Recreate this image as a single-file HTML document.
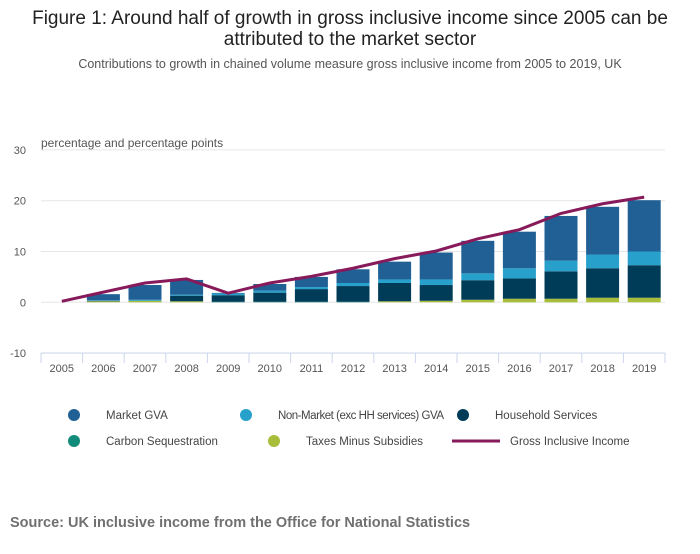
<!DOCTYPE html>
<html><head><meta charset="utf-8"><style>
body{margin:0;background:#fff;font-family:"Liberation Sans",sans-serif;}
svg text{font-family:"Liberation Sans",sans-serif;}
</style></head><body>
<svg id="chart" width="700" height="549">
<text x="350" y="24" text-anchor="middle" font-size="19" fill="#222">Figure 1: Around half of growth in gross inclusive income since 2005 can be</text>
<text x="350" y="45" text-anchor="middle" font-size="19" fill="#222">attributed to the market sector</text>
<text x="350" y="68" text-anchor="middle" font-size="12.5" fill="#555">Contributions to growth in chained volume measure gross inclusive income from 2005 to 2019, UK</text>
<text x="41" y="147" font-size="12" fill="#555">percentage and percentage points</text>
<g id="grid"></g><g id="bars"></g><g id="xaxis"></g><g id="line"></g>
<g id="legend"></g>
<text x="10" y="527" font-size="14.5" font-weight="bold" fill="#707070">Source: UK inclusive income from the Office for National Statistics</text>
</svg>
<script>
const years=["2005","2006","2007","2008","2009","2010","2011","2012","2013","2014","2015","2016","2017","2018","2019"];
const taxes=[0,0.2,0.3,0.2,0,0,0,0,0.2,0.3,0.5,0.7,0.7,0.9,0.9];
const carbon=[0,0,0,0,0.1,0.1,0.1,0.1,0,0,0,0,0,0,0];
const household=[0,0.1,0,1.1,1.3,1.8,2.5,3.1,3.6,3.1,3.85,4.0,5.4,5.8,6.4];
const nonMarket=[0,0.1,0.2,0.2,0.35,0.4,0.4,0.6,0.7,1.1,1.35,2.0,2.1,2.7,2.7];
const market=[0,1.2,2.9,2.9,0.1,1.3,2.0,2.7,3.5,5.3,6.4,7.2,8.8,9.4,10.1];
const gii=[0.2,2.0,3.8,4.6,1.8,3.8,5.1,6.7,8.6,10.1,12.5,14.3,17.5,19.4,20.7];
const yTicks=[30,20,10,0,-10];
const NS="http://www.w3.org/2000/svg";
const X0=41,X1=665,band=(X1-X0)/years.length;
const y=v=>302.3-v*5.08;
const xc=i=>X0+band*(i+0.5);
function mk(t,a,p){const e=document.createElementNS(NS,t);for(const k in a)e.setAttribute(k,a[k]);p.appendChild(e);return e;}
const grid=document.getElementById('grid');
yTicks.forEach(t=>{
 const l=mk('line',{x1:X0,x2:X1,y1:y(t),y2:y(t),stroke:'#e6e6e6'},grid);
 
 
 const tx=mk('text',{x:26,y:y(t)+4,'text-anchor':'end','font-size':11,fill:'#555'},grid);tx.textContent=t;
 
 
});
const series=[[taxes,'#a8bd3a','taxes'],[carbon,'#118c7b','carbon'],[household,'#003c57','household'],[nonMarket,'#27a0cc','non-market'],[market,'#206095','market']];
const bars=document.getElementById('bars');
years.forEach((yr,i)=>{
 let base=0;
 series.forEach(([arr,c,n])=>{
  const v=arr[i];if(v<=0)return;
  const r=mk('rect',{x:xc(i)-16.5,width:33,y:y(base+v),height:y(base)-y(base+v),fill:c},bars);
  
  
  base+=v;
 });
});
const xa=document.getElementById('xaxis');
const ax=mk('line',{x1:X0,x2:X1,y1:353,y2:353,stroke:'#ccd6eb'},xa);


for(let i=0;i<=years.length;i++){mk('line',{x1:X0+band*i,x2:X0+band*i,y1:353,y2:363,stroke:'#ccd6eb'},xa);}
years.forEach((yr,i)=>{const t=mk('text',{x:xc(i),y:372,'text-anchor':'middle','font-size':11,fill:'#555'},xa);t.textContent=yr;
 
 });
const ln=mk('polyline',{points:gii.map((v,i)=>xc(i)+','+y(v)).join(' '),fill:'none',stroke:'#871a5b','stroke-width':3},document.getElementById('line'));


const lg=document.getElementById('legend');
const items=[['circle','#206095','Market GVA',74,415],['circle','#27a0cc','Non-Market (exc HH services) GVA',246,415],['circle','#003c57','Household Services',463,415],['circle','#118c7b','Carbon Sequestration',74,441],['circle','#a8bd3a','Taxes Minus Subsidies',274,441],['line','#871a5b','Gross Inclusive Income',463,441]];
items.forEach(([s,c,l,x,yy])=>{
 const g=mk('g',{},lg);
 
 
 if(s==='circle'){mk('circle',{cx:x,cy:yy,r:6,fill:c},g);}
 else{mk('line',{x1:x-11,x2:x+37,y1:yy,y2:yy,stroke:c,'stroke-width':3},g);}
 const t=mk('text',{x:s==='circle'?x+32:x+47,y:yy+4,'font-size':11.5,fill:'#444'},g);t.textContent=l;
 if(l.length>25)t.setAttribute('textLength','166');
});
</script>
</body></html>
